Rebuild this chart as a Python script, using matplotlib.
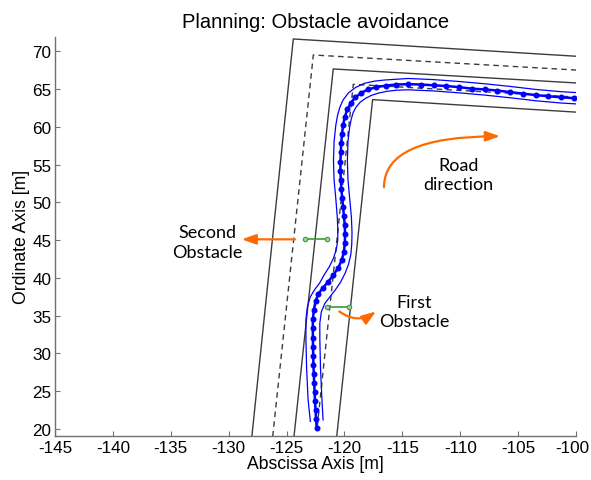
import matplotlib
matplotlib.use("Agg")
import matplotlib.pyplot as plt
import matplotlib.transforms as mtransforms
from matplotlib.patches import FancyArrowPatch

plt.rcParams['font.family'] = ['Liberation Sans', 'DejaVu Sans']
plt.rcParams['axes.unicode_minus'] = False

# road borders (solid) and lane separators (dashed): x, y
outer_x = [-128.0, -124.42, -99.0]
outer_y = [19.0, 71.63, 69.25]
outer_dash_x = [-126.2, -122.69, -99.0]
outer_dash_y = [19.0, 69.51, 67.43]
middle_x = [-124.36, -120.97, -99.0]
middle_y = [19.0, 67.66, 65.72]
inner_dash_x = [-122.35, -119.24, -99.0]
inner_dash_y = [20.3, 65.63, 63.85]
inner_x = [-120.67, -117.57, -99.0]
inner_y = [19.0, 63.6, 61.85]

# planned trajectory samples
path_x = [-122.40, -122.45, -122.50, -122.55, -122.58, -122.62, -122.65, -122.68,
          -122.70, -122.72, -122.73, -122.74, -122.73, -122.65, -122.50,
          -122.25, -121.85, -121.40, -120.95, -120.55, -120.25, -120.05, -119.97,
          -119.95, -119.98, -120.05, -120.12, -120.20, -120.27, -120.32, -120.35,
          -120.35, -120.32, -120.28, -120.22, -120.12,
          -119.98, -119.75, -119.45, -119.05, -118.55, -117.95, -117.25, -116.45,
          -115.55, -114.5, -113.4, -112.3, -111.2, -110.1, -109.0, -107.9,
          -106.8, -105.7, -104.6, -103.5, -102.4, -101.3, -100.2, -99.1]
path_y = [20.1, 21.3, 22.5, 23.7, 24.9, 26.1, 27.3, 28.5,
          29.7, 30.9, 32.1, 33.3, 34.5, 35.7, 36.9,
          37.9, 38.7, 39.5, 40.4, 41.3, 42.3, 43.4, 44.6,
          45.8, 47.0, 48.2, 49.4, 50.6, 51.8, 53.0, 54.2,
          55.4, 56.6, 57.8, 59.0, 60.2,
          61.3, 62.3, 63.2, 63.9, 64.5, 64.95, 65.25, 65.45,
          65.6, 65.65, 65.6, 65.5, 65.4, 65.25, 65.05, 64.95,
          64.8, 64.6, 64.4, 64.2, 64.05, 63.9, 63.8, 63.7]

# trajectory envelope
left_x = [-122.95, -123.15, -123.27, -123.33, -123.33, -123.2, -122.95, -122.55,
          -122.15, -121.75, -121.3, -120.95, -120.7, -120.58, -120.58, -120.62,
          -120.75, -120.9, -120.95, -120.9, -120.75, -120.6, -120.4, -120.1,
          -119.65, -119.05, -118.3, -117.4, -116.5, -115.5, -114.5, -112.3,
          -110.1, -107.9, -105.7, -103.5, -101.3, -99.1]
left_y = [21.0, 24.0, 28.0, 32.0, 34.5, 36.2, 37.5, 38.5,
          39.3, 40.4, 41.5, 42.6, 43.8, 45.0, 46.5, 48.0,
          50.5, 53.0, 55.5, 58.0, 60.2, 61.5, 62.6, 63.6,
          64.5, 65.2, 65.75, 66.05, 66.2, 66.3, 66.4, 66.25,
          66.0, 65.7, 65.35, 64.95, 64.65, 64.45]
right_x = [-121.85, -121.95, -122.07, -122.13, -122.13, -122.0, -121.7, -121.25,
           -120.75, -120.35, -119.95, -119.65, -119.45, -119.37, -119.35, -119.4,
           -119.55, -119.7, -119.75, -119.7, -119.55, -119.4, -119.25, -119.0,
           -118.65, -118.2, -117.7, -117.1, -116.35, -115.5, -114.5, -112.3,
           -110.1, -107.9, -105.7, -103.5, -101.3, -99.1]
right_y = [21.2, 24.0, 28.0, 32.0, 34.0, 35.5, 36.6, 37.5,
           38.5, 39.4, 40.6, 41.8, 43.1, 44.5, 46.0, 48.0,
           50.5, 53.0, 55.5, 58.0, 60.0, 61.1, 61.9, 62.6,
           63.25, 63.75, 64.15, 64.45, 64.7, 64.85, 64.9, 64.75,
           64.5, 64.2, 63.85, 63.45, 63.15, 62.95]

# obstacles
obst1_x = [-121.48, -119.58]
obst1_y = [36.1, 36.1]
obst2_x = [-123.41, -121.54]
obst2_y = [45.1, 45.1]

fig = plt.figure(figsize=(5.91, 4.81), dpi=100)
ax = fig.add_axes([0.0931, 0.0921, 0.8816, 0.8295])

gray = '#3c3c3c'
ax.plot(outer_x, outer_y, color=gray, lw=1.0)
ax.plot(outer_dash_x, outer_dash_y, color=gray, lw=1.0, ls=(0, (4, 3)))
ax.plot(middle_x, middle_y, color=gray, lw=1.0)
ax.plot(inner_dash_x, inner_dash_y, color=gray, lw=1.0, ls=(0, (4, 3)))
ax.plot(inner_x, inner_y, color=gray, lw=1.0)

blue = '#0000ff'
ax.plot(left_x, left_y, color=blue, lw=0.9)
ax.plot(right_x, right_y, color=blue, lw=0.9)
ax.plot(path_x, path_y, color=blue, lw=1.8, marker='o', ms=3.3)

green = '#3a9a3a'
for ox, oy in [(obst1_x, obst1_y), (obst2_x, obst2_y)]:
    ax.plot(ox, oy, color=green, lw=1.2, marker='o', ms=3.2,
            mfc='#9ad69a', mec=green, mew=0.8, zorder=4)

orange = '#ff6a00'
arrow_kw = dict(arrowstyle='-|>,head_length=0.85,head_width=0.3',
                mutation_scale=10, color=orange, lw=1.6, zorder=5,
                shrinkA=0, shrinkB=0)
ax.add_patch(FancyArrowPatch((-124.27, 45.1), (-128.88, 45.1), **arrow_kw))
ax.add_patch(FancyArrowPatch((-120.45, 35.55), (-117.28, 35.55),
                             connectionstyle='arc3,rad=0.35', **arrow_kw))
ax.add_patch(FancyArrowPatch((-116.59, 52.0), (-106.57, 58.75),
                             connectionstyle='angle3,angleA=90,angleB=0', **arrow_kw))

note_kw = dict(family=['Lato', 'DejaVu Sans'], fontsize=13, ha='center',
               va='center', linespacing=1.3)
ax.text(-131.87, 44.69, 'Second\nObstacle', **note_kw)
ax.text(-114.0, 35.55, 'First\nObstacle', **note_kw)
ax.text(-110.16, 53.69, 'Road\ndirection', **note_kw)

ax.set_xlim(-145, -100)
ax.set_ylim(19.1, 71.93)
ax.set_xticks(range(-145, -99, 5))
ax.set_yticks(range(20, 71, 5))
ax.tick_params(direction='in', length=3.6, width=0.8, color='#707070',
               labelsize=12.3)
ax.tick_params(axis='x', pad=3)
ax.tick_params(axis='y', pad=2.5)
for side in ['top', 'right']:
    ax.spines[side].set_visible(False)
for side in ['left', 'bottom']:
    ax.spines[side].set_color('#707070')
    ax.spines[side].set_linewidth(1.0)

# keep the last x tick label inside the figure
last = ax.get_xticklabels()[-1]
last.set_transform(last.get_transform() +
                   mtransforms.ScaledTranslation(-4 / 100, 0, fig.dpi_scale_trans))

ax.set_xlabel('Abscissa Axis [m]', fontsize=12.7, labelpad=0)
ax.set_ylabel('Ordinate Axis [m]', fontsize=12.7, labelpad=2)
ax.set_title('Planning: Obstacle avoidance', fontsize=14.5, pad=7)

fig.savefig('out.png', dpi=100)
